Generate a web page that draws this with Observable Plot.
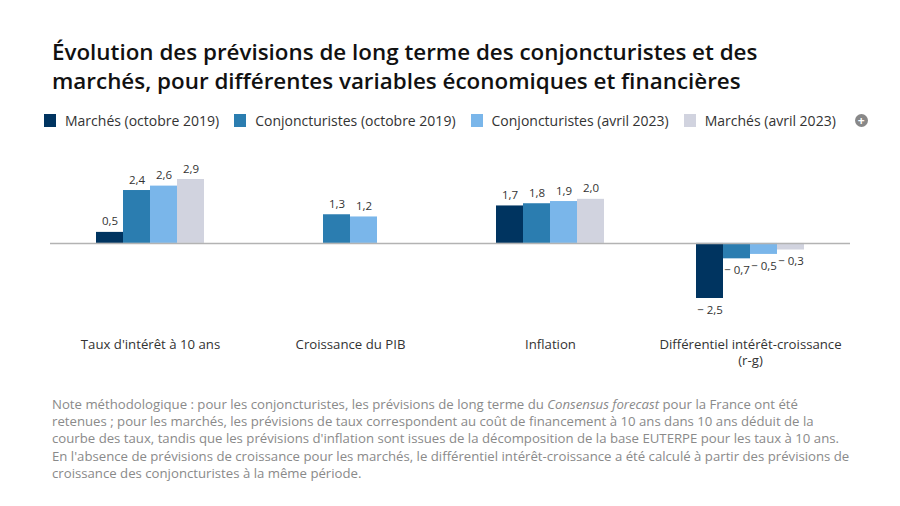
<!DOCTYPE html>
<html>
<head>
<meta charset="utf-8">
<script src="https://cdn.jsdelivr.net/npm/d3@7"></script>
<script src="https://cdn.jsdelivr.net/npm/@observablehq/plot@0.6"></script>
<style>
  html, body { margin: 0; padding: 0; background: #fff; }
  body { width: 900px; height: 506px; position: relative; overflow: hidden; font-family: "Open Sans", sans-serif; }
  #title { position: absolute; left: 52px; top: 37px; font-size: 22.4px; font-weight: 600; line-height: 29px; color: #111; }
  #legend { position: absolute; left: 44px; top: 111px; display: flex; align-items: center; font-size: 14px; color: #333; white-space: nowrap; }
  .item { display: flex; align-items: center; margin-right: 15px; }
  .sw { width: 12px; height: 13px; margin-right: 9px; }
  .plus { width: 13px; height: 13px; border-radius: 50%; background: #888; color: #fff; font-size: 12px; line-height: 13px; text-align: center; font-weight: 700; margin-left: 4px; }
  #chart { position: absolute; left: 0; top: 140px; }
  #note { position: absolute; left: 52px; top: 396px; font-size: 13.2px; line-height: 17.2px; color: #8a8a8a; white-space: nowrap; }
</style>
</head>
<body>
<div id="title">Évolution des prévisions de long terme des conjoncturistes et des<br>marchés, pour différentes variables économiques et financières</div>
<div id="legend"></div>
<div id="chart"></div>
<div id="note">Note méthodologique : pour les conjoncturistes, les prévisions de long terme du <i>Consensus forecast</i> pour la France ont été<br>retenues ; pour les marchés, les prévisions de taux correspondent au coût de financement à 10 ans dans 10 ans déduit de la<br>courbe des taux, tandis que les prévisions d'inflation sont issues de la décomposition de la base EUTERPE pour les taux à 10 ans.<br>En l'absence de prévisions de croissance pour les marchés, le différentiel intérêt-croissance a été calculé à partir des prévisions de<br>croissance des conjoncturistes à la même période.</div>
<script>
const categories = ["Taux d'intérêt à 10 ans", "Croissance du PIB", "Inflation", "Différentiel intérêt-croissance\n(r-g)"];
const series = ["Marchés (octobre 2019)", "Conjoncturistes (octobre 2019)", "Conjoncturistes (avril 2023)", "Marchés (avril 2023)"];
const colors = ["#003460", "#2b7db0", "#7ab6ea", "#d1d3df"];
const marchesOct2019 = [0.5, null, 1.7, -2.5];
const conjOct2019 = [2.4, 1.3, 1.8, -0.7];
const conjAvr2023 = [2.6, 1.2, 1.9, -0.5];
const marchesAvr2023 = [2.9, null, 2.0, -0.3];

const valuesBySeries = [marchesOct2019, conjOct2019, conjAvr2023, marchesAvr2023];
const data = [];
series.forEach((s, j) => {
  valuesBySeries[j].forEach((v, i) => {
    if (v !== null) data.push({category: categories[i], series: s, value: v});
  });
});

const fmt = v => (v < 0 ? "− " : "") + Math.abs(v).toFixed(1).replace(".", ",");

// Legend
const legend = document.getElementById("legend");
series.forEach((s, j) => {
  const it = document.createElement("div");
  it.className = "item";
  it.innerHTML = `<div class="sw" style="background:${colors[j]}"></div><span>${s}</span>`;
  legend.appendChild(it);
});
const plus = document.createElement("div");
plus.className = "plus";
plus.textContent = "+";
legend.appendChild(plus);

const chart = Plot.plot({
  width: 900,
  height: 240,
  marginLeft: 50,
  marginRight: 50,
  marginTop: 39,
  marginBottom: 82,
  style: {fontFamily: "Open Sans, sans-serif", fontSize: "13px", color: "#333"},
  fx: {domain: categories, padding: 0, label: null},
  x: {domain: series, paddingInner: 0, paddingOuter: 1.636, axis: null},
  y: {domain: [-2.5, 2.9], axis: null},
  color: {domain: series, range: colors},
  marks: [
    Plot.barY(data, {fx: "category", x: "series", y: "value", fill: "series"}),
    Plot.ruleY([0], {stroke: "#b3b3b3", strokeWidth: 1.5}),
    Plot.text(data.filter(d => d.value >= 0), {fx: "category", x: "series", y: "value", text: d => fmt(d.value), lineAnchor: "bottom", dy: -7, fontSize: 11.5, fill: "#333"}),
    Plot.text(data.filter(d => d.value < 0), {fx: "category", x: "series", y: "value", text: d => fmt(d.value), lineAnchor: "top", dy: 7, fontSize: 11.5, fill: "#333"}),
    Plot.axisFx({anchor: "bottom", tickSize: 0, tickPadding: 38, label: null, fontSize: 13.2, lineHeight: 1.28, fill: "#333"})
  ]
});
document.getElementById("chart").appendChild(chart);
</script>
</body>
</html>
